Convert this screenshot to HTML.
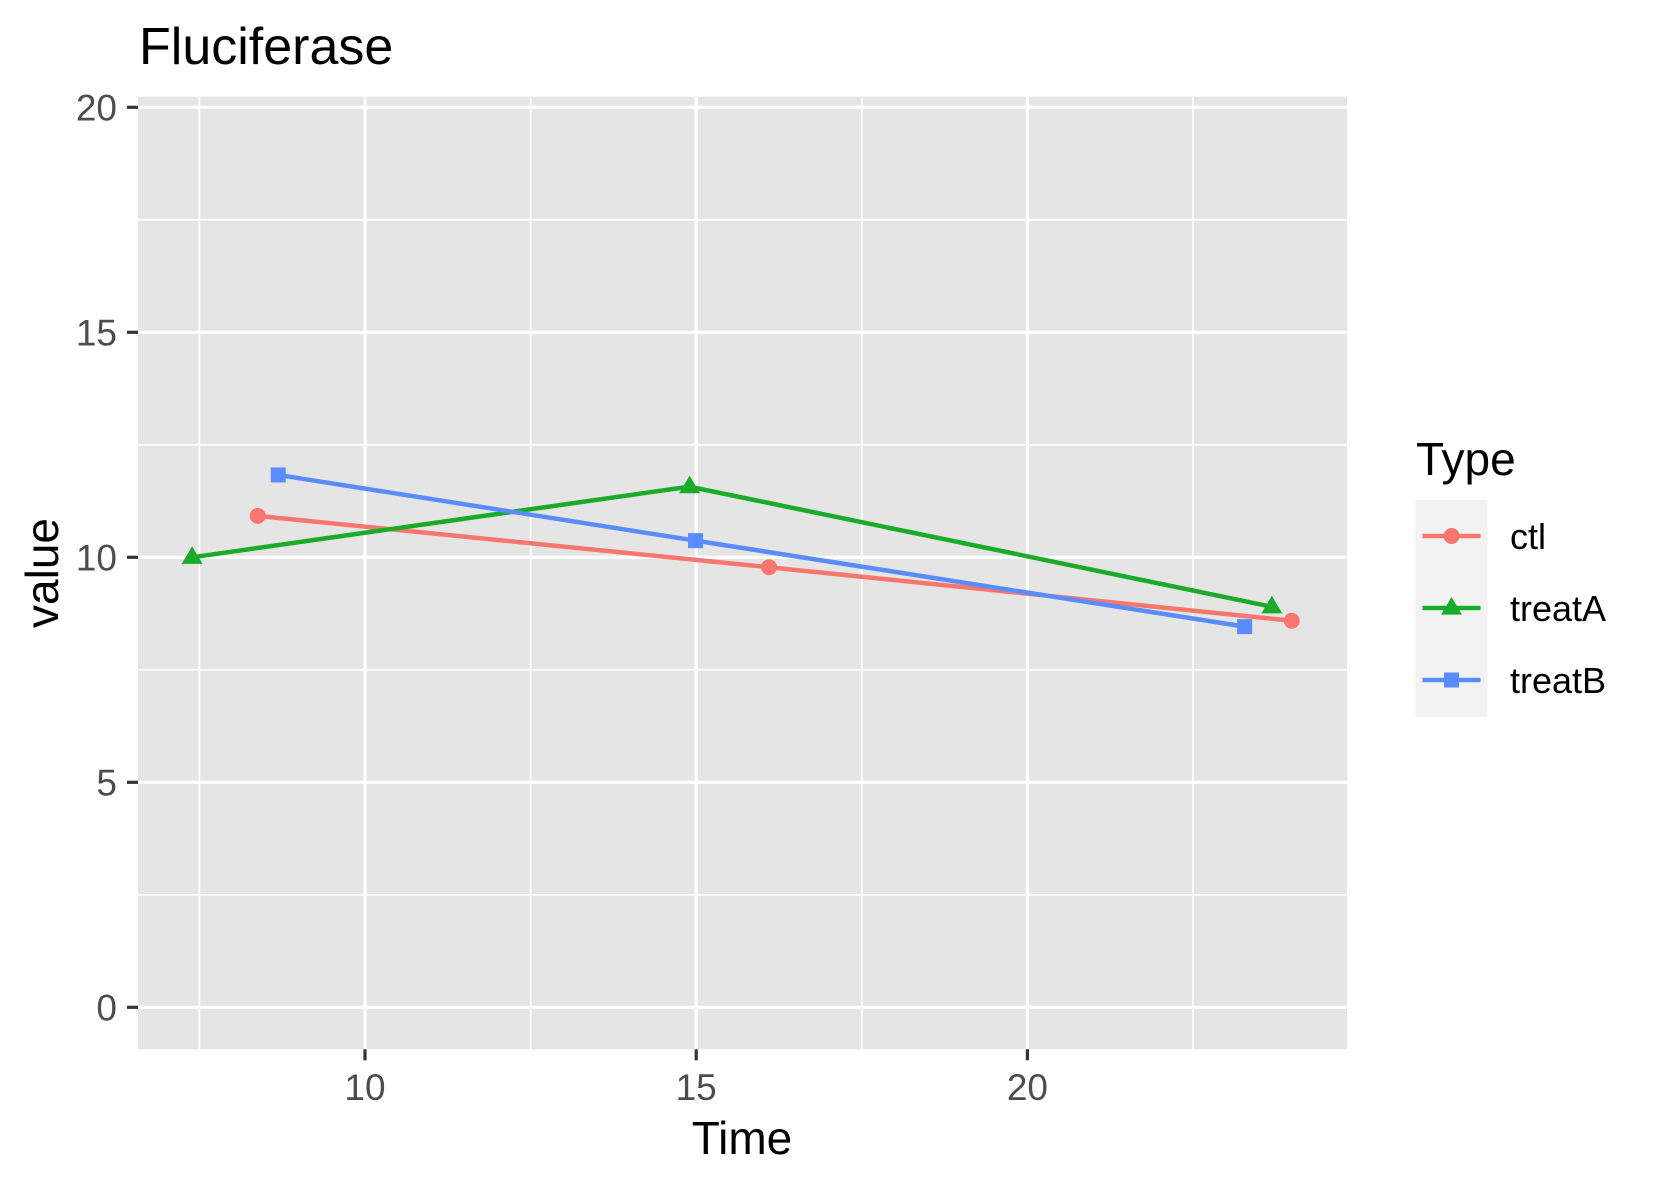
<!DOCTYPE html>
<html><head><meta charset="utf-8"><style>
body{margin:0;background:#fff;}
svg{display:block;font-family:"Liberation Sans",Arial,sans-serif;}
</style></head><body>
<svg id="chart" width="1653" height="1181" viewBox="0 0 1653 1181">
<text x="139" y="64" font-size="52" fill="#000">Fluciferase</text>
<rect x="138" y="96.7" width="1209" height="952.6" fill="#E5E5E5"/>
<g id="grid"></g>
<g id="axes"></g>
<g id="series"></g>
<text x="742" y="1154" font-size="46" text-anchor="middle" fill="#000">Time</text>
<text transform="translate(58,573) rotate(-90)" font-size="46" text-anchor="middle" fill="#000">value</text>
<text x="1416" y="475" font-size="46" fill="#000">Type</text>
<rect x="1415.5" y="500" width="72" height="217" fill="#F2F2F2"/>
<g id="legend"></g>
</svg>
<script>
const seriesNames = ["ctl","treatA","treatB"];
const seriesColors = ["#F8766D","#1AAB2B","#5B8CFF"];
const ctlTime = [8.38, 16.1, 23.99];
const ctlValue = [10.92, 9.78, 8.59];
const treatATime = [7.39, 14.9, 23.69];
const treatAValue = [10.0, 11.57, 8.9];
const treatBTime = [8.69, 14.99, 23.28];
const treatBValue = [11.83, 10.37, 8.46];
const xTicks = [10, 15, 20];
const xMinor = [7.5, 12.5, 17.5, 22.5];
const yTicks = [0, 5, 10, 15, 20];
const yMinor = [2.5, 7.5, 12.5, 17.5];

const NS = "http://www.w3.org/2000/svg";
const X = t => 365 + (t - 10) * 66.24;
const Y = v => 1007.3 - v * 45;
const PL = 138, PR = 1347, PT = 96.7, PB = 1049.3;
function mk(tag, attrs, parent){const e=document.createElementNS(NS,tag);for(const k in attrs)e.setAttribute(k,attrs[k]);parent.appendChild(e);return e;}
const grid=document.getElementById('grid'), axes=document.getElementById('axes'), ser=document.getElementById('series'), leg=document.getElementById('legend');

xMinor.forEach(t=>{const l=mk('line',{x1:X(t),x2:X(t),y1:PT,y2:PB,stroke:'#fff','stroke-width':1.6},grid);

});
yMinor.forEach(v=>{const l=mk('line',{x1:PL,x2:PR,y1:Y(v),y2:Y(v),stroke:'#fff','stroke-width':1.6},grid);

});
xTicks.forEach(t=>{const l=mk('line',{x1:X(t),x2:X(t),y1:PT,y2:PB,stroke:'#fff','stroke-width':3.2},grid);


const tk=mk('line',{x1:X(t),x2:X(t),y1:PB,y2:PB+11,stroke:'#333','stroke-width':3.2},axes);


const tx=mk('text',{x:X(t),y:1100,'font-size':37,'text-anchor':'middle',fill:'#4D4D4D'},axes);
tx.textContent=t;

});
yTicks.forEach(v=>{const l=mk('line',{x1:PL,x2:PR,y1:Y(v),y2:Y(v),stroke:'#fff','stroke-width':3.2},grid);


const tk=mk('line',{x1:PL-11,x2:PL,y1:Y(v),y2:Y(v),stroke:'#333','stroke-width':3.2},axes);


const tx=mk('text',{x:117,y:Y(v)+13,'font-size':37,'text-anchor':'end',fill:'#4D4D4D'},axes);
tx.textContent=v;

});

function marker(i,cx,cy,parent,s){
  let e;
  if(i===0) e=mk('circle',{cx:cx,cy:cy,r:8*s,fill:seriesColors[i]},parent);
  else if(i===1){const r=11*s;e=mk('polygon',{points:`${cx},${cy-r} ${cx+r*0.95},${cy+r*0.6} ${cx-r*0.95},${cy+r*0.6}`,fill:seriesColors[i]},parent);}
  else e=mk('rect',{x:cx-7.5*s,y:cy-7.5*s,width:15*s,height:15*s,fill:seriesColors[i]},parent);
  return e;
}
const times=[ctlTime,treatATime,treatBTime], vals=[ctlValue,treatAValue,treatBValue];
seriesNames.forEach((n,i)=>{
  const pts=times[i].map((t,j)=>X(t)+','+Y(vals[i][j])).join(' ');
  const pl=mk('polyline',{points:pts,fill:'none',stroke:seriesColors[i],'stroke-width':4.5},ser);
  
  
});
seriesNames.forEach((n,i)=>{
  times[i].forEach((t,j)=>{const m=marker(i,X(t),Y(vals[i][j]),ser,1);
  
  });
});
const legY=[536,608,680];
seriesNames.forEach((n,i)=>{
  const g=mk('g',{},leg);
  
  
  mk('line',{x1:1422.5,x2:1480.5,y1:legY[i],y2:legY[i],stroke:seriesColors[i],'stroke-width':4.5},g);
  marker(i,1451.5,legY[i],g,1);
  const tx=mk('text',{x:1510,y:legY[i]+13,'font-size':36,fill:'#000'},g);
  tx.textContent=n;
});
</script>
</body></html>
